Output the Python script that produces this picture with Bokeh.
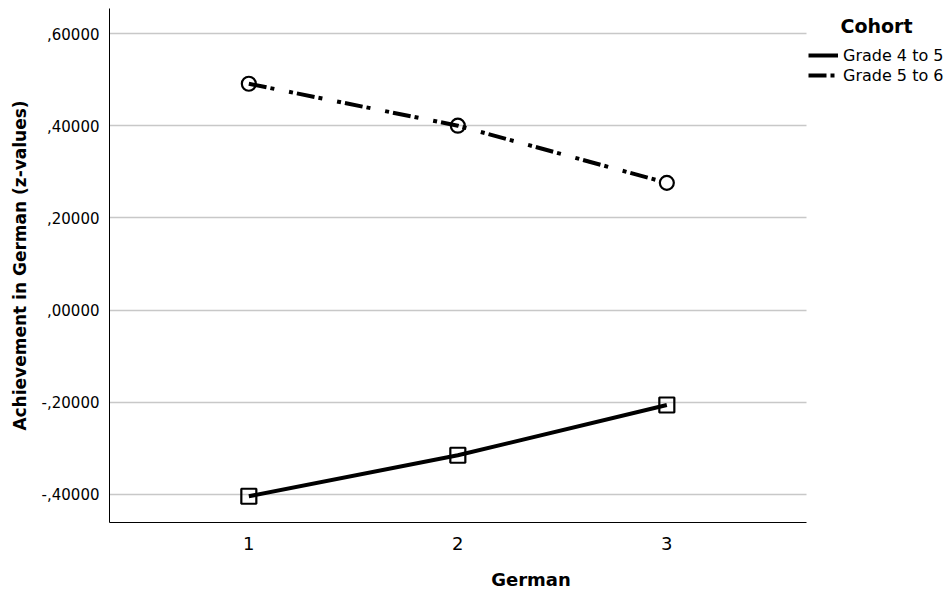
from bokeh.plotting import figure
from bokeh.models import (FixedTicker, CustomJSTickFormatter, Legend, LegendItem,
                          Range1d, Label)
from bokeh.embed import file_html
from bokeh.resources import INLINE

# ---- data ----
german_levels = [1, 2, 3]
cohorts = ["Grade 4 to 5", "Grade 5 to 6"]
grade_4_to_5 = [-0.404, -0.315, -0.206]
grade_5_to_6 = [0.491, 0.400, 0.276]
y_ticks = [-0.4, -0.2, 0.0, 0.2, 0.4, 0.6]
legend_title = "Cohort"

FONT = "DejaVu Sans"

W, H = 952, 592
LEFT, BOTTOM, TOP = 109, 70, 8
PX_PER_UNIT = 209.0
X0, X1 = 1/3, 11/3          # visible extent of the plotted region
x_end = X0 + (W - LEFT) / PX_PER_UNIT   # frame extends under the legend

p = figure(width=W, height=H,
           x_range=Range1d(X0, x_end), y_range=Range1d(-0.4609, 0.6543),
           output_backend="svg", toolbar_location=None,
           min_border_left=LEFT, min_border_right=0,
           min_border_top=TOP, min_border_bottom=BOTTOM)
p.outline_line_color = None
p.background_fill_color = "white"
p.border_fill_color = "white"

# grid
p.xgrid.grid_line_color = None
p.ygrid.ticker = FixedTicker(ticks=y_ticks)
p.ygrid.grid_line_color = "#c8c8c8"
p.ygrid.grid_line_width = 1.3
p.ygrid.cross_bounds = (X0, X1)

# axes
p.xaxis.ticker = FixedTicker(ticks=german_levels)
p.xaxis.bounds = (X0, X1)
p.yaxis.ticker = FixedTicker(ticks=y_ticks)
p.yaxis.formatter = CustomJSTickFormatter(code="""
    const s = Math.abs(tick).toFixed(5).replace(/^0/, '').replace('.', ',');
    return (tick < -1e-9 ? '-' : '') + s;
""")
for ax in (p.xaxis, p.yaxis):
    ax.axis_line_color = "black"
    ax.axis_line_width = 1
    ax.major_tick_line_color = None
    ax.minor_tick_line_color = None
    ax.major_label_text_font = FONT
    ax.axis_label_text_font = FONT
    ax.axis_label_text_font_style = "bold"
    ax.major_label_text_color = "black"
    ax.axis_label_text_color = "black"

p.xaxis.major_label_text_font_size = "18px"
p.xaxis.major_label_standoff = 8
p.xaxis.axis_label = "German"
p.xaxis.axis_label_text_font_size = "18px"
p.xaxis.axis_label_standoff = 16

p.yaxis.major_label_text_font_size = "15px"
p.yaxis.major_label_standoff = 4
p.yaxis.axis_label = "Achievement in German (z-values)"
p.yaxis.axis_label_text_font_size = "17px"
p.yaxis.axis_label_standoff = 9

# lines
l1 = p.line(german_levels, grade_4_to_5, line_color="black", line_width=4)
l2 = p.line(german_levels, grade_5_to_6, line_color="black", line_width=4,
            line_dash="18 4 4 15 4 4")
p.scatter(german_levels, grade_4_to_5, marker="square", size=15,
          fill_alpha=0, line_color="black", line_width=2.2)
p.scatter(german_levels, grade_5_to_6, marker="circle", size=14,
          fill_alpha=0, line_color="black", line_width=2.2)

legend = Legend(items=[LegendItem(label=cohorts[0], renderers=[l1]),
                       LegendItem(label=cohorts[1], renderers=[l2])],
                location=(699, 437), padding=0, margin=0, spacing=0,
                glyph_width=30, glyph_height=20, label_standoff=5,
                label_text_font=FONT, label_text_font_size="16px",
                label_text_color="black", label_height=20,
                background_fill_alpha=0, border_line_color=None)
p.add_layout(legend, "center")

title = Label(x=731, y=497, x_units="screen", y_units="screen", text=legend_title,
              text_font=FONT, text_font_style="bold", text_font_size="19px",
              text_align="left", text_baseline="middle", text_color="black")
p.add_layout(title)

open("out.html", "w").write(file_html(p, INLINE))
